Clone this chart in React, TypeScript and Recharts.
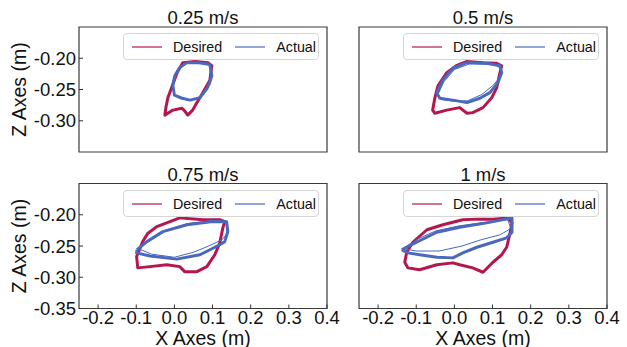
import { ScatterChart, Scatter, XAxis, YAxis, ReferenceArea, Legend } from 'recharts';

const RED = '#b3174e';
const BLUE = '#4a69bd';
const FONT = '"Liberation Sans", Arial, sans-serif';

const xTicks = [-0.2, -0.1, 0, 0.1, 0.2, 0.3, 0.4];
const zTicks = [-0.35, -0.3, -0.25, -0.2];
const xDomain = [-0.25, 0.4];
const zDomain = [-0.35, -0.15];
const titles = ['0.25 m/s', '0.5 m/s', '0.75 m/s', '1 m/s'];
const seriesNames = ['Desired', 'Actual'];

type Pt = { x: number; z: number };

// 0.25 m/s
const desired025: Pt[] = [
  { x: 0.054, z: -0.205 }, { x: 0.022, z: -0.207 }, { x: 0.008, z: -0.222 }, { x: 0.0, z: -0.235 },
  { x: -0.009, z: -0.25 }, { x: -0.017, z: -0.263 }, { x: -0.022, z: -0.278 }, { x: -0.025, z: -0.291 },
  { x: -0.012, z: -0.286 }, { x: -0.004, z: -0.283 }, { x: 0.02, z: -0.28 }, { x: 0.028, z: -0.285 },
  { x: 0.035, z: -0.291 }, { x: 0.048, z: -0.283 }, { x: 0.058, z: -0.272 }, { x: 0.067, z: -0.263 },
  { x: 0.08, z: -0.249 }, { x: 0.093, z: -0.235 }, { x: 0.098, z: -0.212 }, { x: 0.088, z: -0.207 },
  { x: 0.054, z: -0.205 },
];
const actual025: Pt[] = [
  { x: 0.033, z: -0.207 }, { x: 0.06, z: -0.207 }, { x: 0.093, z: -0.21 }, { x: 0.098, z: -0.228 },
  { x: 0.092, z: -0.24 }, { x: 0.085, z: -0.249 }, { x: 0.067, z: -0.263 }, { x: 0.041, z: -0.267 },
  { x: 0.02, z: -0.264 }, { x: 0.0, z: -0.259 }, { x: -0.004, z: -0.243 }, { x: 0.001, z: -0.228 },
  { x: 0.014, z: -0.215 }, { x: 0.033, z: -0.207 },
];

// 0.5 m/s
const desired05: Pt[] = [
  { x: 0.075, z: -0.207 }, { x: 0.033, z: -0.205 }, { x: 0.005, z: -0.212 }, { x: -0.02, z: -0.223 },
  { x: -0.043, z: -0.244 }, { x: -0.051, z: -0.263 }, { x: -0.057, z: -0.283 }, { x: -0.051, z: -0.288 },
  { x: -0.02, z: -0.283 }, { x: 0.014, z: -0.279 }, { x: 0.033, z: -0.288 }, { x: 0.048, z: -0.287 },
  { x: 0.075, z: -0.279 }, { x: 0.098, z: -0.263 }, { x: 0.111, z: -0.247 }, { x: 0.119, z: -0.224 },
  { x: 0.124, z: -0.212 }, { x: 0.111, z: -0.208 }, { x: 0.075, z: -0.207 },
];
const actual05: Pt[] = [
  { x: 0.033, z: -0.207 }, { x: -0.004, z: -0.216 }, { x: -0.03, z: -0.235 }, { x: -0.046, z: -0.256 },
  { x: -0.038, z: -0.264 }, { x: -0.004, z: -0.267 }, { x: 0.033, z: -0.271 }, { x: 0.067, z: -0.264 },
  { x: 0.093, z: -0.255 }, { x: 0.114, z: -0.239 }, { x: 0.124, z: -0.223 }, { x: 0.119, z: -0.212 },
  { x: 0.085, z: -0.208 }, { x: 0.033, z: -0.207 },
];
const actual05b: Pt[] = [
  { x: 0.04, z: -0.209 }, { x: 0.0, z: -0.218 }, { x: -0.028, z: -0.238 }, { x: -0.043, z: -0.258 },
  { x: -0.035, z: -0.266 }, { x: 0.0, z: -0.269 }, { x: 0.035, z: -0.268 }, { x: 0.072, z: -0.258 },
  { x: 0.1, z: -0.244 }, { x: 0.118, z: -0.232 }, { x: 0.122, z: -0.218 }, { x: 0.11, z: -0.21 },
  { x: 0.04, z: -0.209 },
];

// 0.75 m/s
const desired075: Pt[] = [
  { x: 0.075, z: -0.208 }, { x: 0.014, z: -0.205 }, { x: -0.046, z: -0.219 }, { x: -0.07, z: -0.23 },
  { x: -0.083, z: -0.243 }, { x: -0.099, z: -0.267 }, { x: -0.096, z: -0.285 }, { x: -0.064, z: -0.283 },
  { x: -0.02, z: -0.28 }, { x: 0.014, z: -0.283 }, { x: 0.027, z: -0.291 }, { x: 0.059, z: -0.291 },
  { x: 0.085, z: -0.283 }, { x: 0.106, z: -0.264 }, { x: 0.119, z: -0.245 }, { x: 0.127, z: -0.221 },
  { x: 0.132, z: -0.211 }, { x: 0.119, z: -0.208 }, { x: 0.075, z: -0.208 },
];
const actual075: Pt[] = [
  { x: -0.098, z: -0.256 }, { x: -0.072, z: -0.243 }, { x: -0.03, z: -0.227 }, { x: 0.033, z: -0.216 },
  { x: 0.101, z: -0.211 }, { x: 0.137, z: -0.211 }, { x: 0.14, z: -0.227 }, { x: 0.132, z: -0.243 },
  { x: 0.119, z: -0.248 }, { x: 0.067, z: -0.264 }, { x: 0.006, z: -0.271 }, { x: -0.064, z: -0.266 },
  { x: -0.099, z: -0.261 }, { x: -0.098, z: -0.256 },
];
const actual075b: Pt[] = [
  { x: -0.095, z: -0.254 }, { x: -0.065, z: -0.24 }, { x: -0.025, z: -0.225 }, { x: 0.035, z: -0.214 },
  { x: 0.1, z: -0.209 }, { x: 0.135, z: -0.21 }, { x: 0.138, z: -0.23 }, { x: 0.125, z: -0.24 },
  { x: 0.09, z: -0.25 }, { x: 0.05, z: -0.26 }, { x: 0.0, z: -0.268 }, { x: -0.06, z: -0.263 },
  { x: -0.095, z: -0.254 },
];

// 1 m/s
const desired1: Pt[] = [
  { x: 0.059, z: -0.207 }, { x: 0.022, z: -0.208 }, { x: -0.03, z: -0.216 }, { x: -0.072, z: -0.224 },
  { x: -0.109, z: -0.244 }, { x: -0.125, z: -0.26 }, { x: -0.13, z: -0.276 }, { x: -0.122, z: -0.285 },
  { x: -0.091, z: -0.288 }, { x: -0.046, z: -0.28 }, { x: -0.004, z: -0.277 }, { x: 0.014, z: -0.28 },
  { x: 0.048, z: -0.285 }, { x: 0.075, z: -0.292 }, { x: 0.101, z: -0.276 }, { x: 0.124, z: -0.264 },
  { x: 0.137, z: -0.252 }, { x: 0.145, z: -0.232 }, { x: 0.151, z: -0.213 }, { x: 0.14, z: -0.205 },
  { x: 0.101, z: -0.207 }, { x: 0.059, z: -0.207 },
];
const actual1: Pt[] = [
  { x: -0.138, z: -0.256 }, { x: -0.099, z: -0.244 }, { x: -0.046, z: -0.228 }, { x: 0.014, z: -0.22 },
  { x: 0.085, z: -0.213 }, { x: 0.151, z: -0.205 }, { x: 0.151, z: -0.228 }, { x: 0.137, z: -0.237 },
  { x: 0.101, z: -0.244 }, { x: 0.059, z: -0.252 }, { x: 0.022, z: -0.261 }, { x: -0.004, z: -0.269 },
  { x: -0.046, z: -0.268 }, { x: -0.091, z: -0.264 }, { x: -0.122, z: -0.261 }, { x: -0.138, z: -0.256 },
];
const actual1b: Pt[] = [
  { x: -0.135, z: -0.254 }, { x: -0.1, z: -0.24 }, { x: -0.05, z: -0.226 }, { x: 0.01, z: -0.218 },
  { x: 0.08, z: -0.212 }, { x: 0.14, z: -0.208 }, { x: 0.148, z: -0.222 }, { x: 0.12, z: -0.232 },
  { x: 0.07, z: -0.24 }, { x: 0.02, z: -0.25 }, { x: -0.04, z: -0.258 }, { x: -0.1, z: -0.258 },
  { x: -0.135, z: -0.254 },
];

const noPoint = () => <g />;

function LegendBox({ payload }: any) {
  // only the two named series, in plotting order
  const items = (payload || [])
    .filter((p: any) => seriesNames.includes(p.value))
    .sort((a: any, b: any) => seriesNames.indexOf(a.value) - seriesNames.indexOf(b.value));
  return (
    <div
      style={{
        width: 196,
        height: 27,
        boxSizing: 'border-box',
        border: '1px solid #d6d6d6',
        borderRadius: 4,
        background: 'rgba(255,255,255,0.8)',
        display: 'flex',
        alignItems: 'center',
        paddingLeft: 8,
        fontFamily: FONT,
        fontSize: 14.3,
        color: '#111',
        whiteSpace: 'nowrap',
      }}
    >
      {items.map((p: any, i: number) => (
        <div key={p.value} style={{ display: 'flex', alignItems: 'center', marginLeft: i ? 13 : 0 }}>
          <svg width={30} height={4}>
            <line x1={0} y1={2} x2={30} y2={2} stroke={p.color} strokeWidth={2} strokeOpacity={0.6} />
          </svg>
          <span style={{ marginLeft: 11 }}>{p.value}</span>
        </div>
      ))}
    </div>
  );
}

type PanelProps = {
  title: string;
  desired: Pt[];
  actual: Pt[];
  extra?: Pt[];
  left: number;
  top: number;
  bottomRow?: boolean;
  leftCol?: boolean;
};

function Panel({ title, desired, actual, extra, left, top, bottomRow, leftCol }: PanelProps) {
  const height = bottomRow ? 191 : 160;
  const mTop = bottomRow ? 27.5 : 27;
  return (
    <div style={{ position: 'absolute', left, top }}>
      <ScatterChart
        width={347}
        height={height}
        margin={{ top: mTop, right: 20, bottom: bottomRow ? 0 : height - mTop - 125, left: leftCol ? 0 : 79 }}
      >
        <XAxis
          type="number"
          dataKey="x"
          domain={xDomain}
          ticks={xTicks}
          allowDataOverflow
          hide={!bottomRow}
          height={38.5}
          axisLine={false}
          tickSize={-4}
          tickMargin={6}
          tickLine={{ stroke: '#333' }}
          tick={{ fontSize: 18.5, fill: '#111', fontFamily: FONT }}
          tickFormatter={(v: number) => v.toFixed(1)}
          label={{ value: 'X Axes (m)', position: 'insideBottom', offset: 2.5, fontSize: 19.5, fill: '#111', fontFamily: FONT }}
        />
        <YAxis
          type="number"
          dataKey="z"
          domain={zDomain}
          ticks={zTicks}
          allowDataOverflow
          hide={!leftCol}
          width={79}
          axisLine={false}
          tickSize={-4}
          tickMargin={7}
          tickLine={{ stroke: '#333' }}
          tick={{ fontSize: 18.5, fill: '#111', fontFamily: FONT }}
          tickFormatter={(v: number) => v.toFixed(2)}
          label={{
            value: 'Z Axes (m)',
            angle: -90,
            position: 'insideLeft',
            offset: 19.5,
            fontSize: 19.5,
            fill: '#111',
            fontFamily: FONT,
            style: { textAnchor: 'middle' },
          }}
        />
        <ReferenceArea
          x1={xDomain[0]}
          x2={xDomain[1]}
          y1={zDomain[0]}
          y2={zDomain[1]}
          fill="none"
          stroke="#3a3a3a"
          strokeWidth={1.2}
          ifOverflow="visible"
          label={{ value: title, position: 'top', offset: 3, fontSize: 18.5, fill: '#111', fontFamily: FONT }}
        />
        <Scatter
          name={seriesNames[0]}
          data={desired}
          fill={RED}
          line={{ stroke: RED, strokeWidth: 3, strokeLinejoin: 'round' }}
          lineType="joint"
          shape={noPoint}
          isAnimationActive={false}
        />
        <Scatter
          name={seriesNames[1]}
          data={actual}
          fill={BLUE}
          line={{ stroke: BLUE, strokeWidth: 3, strokeLinejoin: 'round' }}
          lineType="joint"
          shape={noPoint}
          isAnimationActive={false}
        />
        {extra && (
          <Scatter
            name="Actual cycle"
            data={extra}
            fill={BLUE}
            legendType="none"
            line={{ stroke: BLUE, strokeWidth: 1, strokeLinejoin: 'round' }}
            lineType="joint"
            shape={noPoint}
            isAnimationActive={false}
          />
        )}
        <Legend
          layout="horizontal"
          verticalAlign="middle"
          content={LegendBox}
          wrapperStyle={{ top: bottomRow ? 34 : 33, left: 123, width: 196 }}
        />
      </ScatterChart>
    </div>
  );
}

export default function App() {
  return (
    <div style={{ position: 'absolute', left: 0, top: 0, width: 627, height: 347, background: '#fff', overflow: 'hidden' }}>
      <Panel title={titles[0]} desired={desired025} actual={actual025} left={0} top={0} leftCol />
      <Panel title={titles[1]} desired={desired05} actual={actual05} extra={actual05b} left={280} top={0} />
      <Panel title={titles[2]} desired={desired075} actual={actual075} extra={actual075b} left={0} top={156} leftCol bottomRow />
      <Panel title={titles[3]} desired={desired1} actual={actual1} extra={actual1b} left={280} top={156} bottomRow />
    </div>
  );
}
